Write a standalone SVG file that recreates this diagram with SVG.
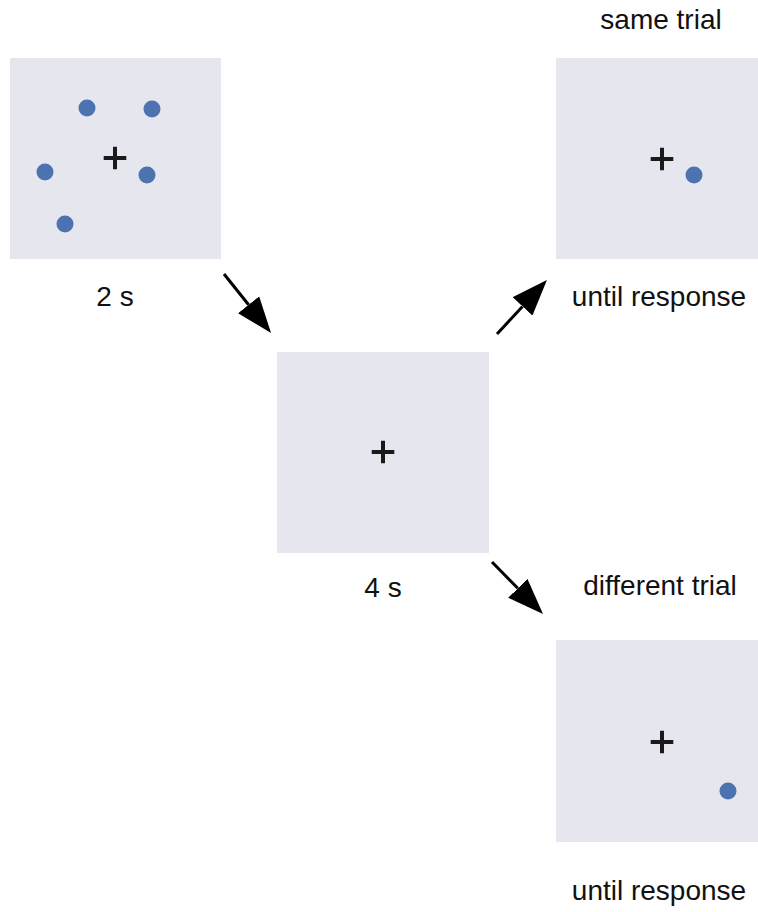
<svg xmlns="http://www.w3.org/2000/svg" width="758" height="912" viewBox="0 0 758 912">
<style>
.panel{fill:#e6e6ee}
.dot{fill:#4c72b0}
.fix{stroke:#1a1a1a;stroke-width:4;fill:none}
.lbl{font-family:"Liberation Sans",Arial,Helvetica,sans-serif;font-size:28px;fill:#111;text-anchor:middle}
.conn{stroke:#000;stroke-width:3;fill:none}
</style>
<defs>
<marker id="ah" viewBox="0 0 36 27" refX="0" refY="13.5" markerWidth="36" markerHeight="27" markerUnits="userSpaceOnUse" orient="auto">
<path d="M0,0 L36,13.5 L0,27 z" fill="#000"/>
</marker>
<path id="plus" d="M-11.3,0 H11.3 M0,-11.3 V11.3"/>
</defs>
<rect width="758" height="912" fill="#fff"/>

<g id="stim">
<rect class="panel" x="10" y="58" width="211" height="201"/>
<use href="#plus" class="fix" x="115" y="158"/>
<circle class="dot" cx="87" cy="108" r="8.5"/>
<circle class="dot" cx="152" cy="109" r="8.5"/>
<circle class="dot" cx="45" cy="172" r="8.5"/>
<circle class="dot" cx="147" cy="175" r="8.5"/>
<circle class="dot" cx="65" cy="224" r="8.5"/>
<text class="lbl" x="115" y="306">2 s</text>
</g>

<g id="delay">
<rect class="panel" x="277" y="352" width="212" height="201"/>
<use href="#plus" class="fix" x="383" y="452"/>
<text class="lbl" x="383" y="597">4 s</text>
</g>

<g id="same">
<text class="lbl" x="661" y="29">same trial</text>
<rect class="panel" x="556" y="58" width="211" height="201"/>
<use href="#plus" class="fix" x="662" y="159"/>
<circle class="dot" cx="694" cy="175" r="8.5"/>
<text class="lbl" x="659" y="306">until response</text>
</g>

<g id="different">
<text class="lbl" x="660" y="595">different trial</text>
<rect class="panel" x="556" y="640" width="211" height="202"/>
<use href="#plus" class="fix" x="662" y="742"/>
<circle class="dot" cx="728" cy="791" r="8.5"/>
<text class="lbl" x="659" y="900">until response</text>
</g>

<g id="connectors">
<line class="conn" x1="224" y1="274" x2="248.6" y2="304.8" marker-end="url(#ah)"/>
<line class="conn" x1="497" y1="334" x2="522.5" y2="306.4" marker-end="url(#ah)"/>
<line class="conn" x1="492" y1="562" x2="517.8" y2="588.3" marker-end="url(#ah)"/>
</g>
</svg>
